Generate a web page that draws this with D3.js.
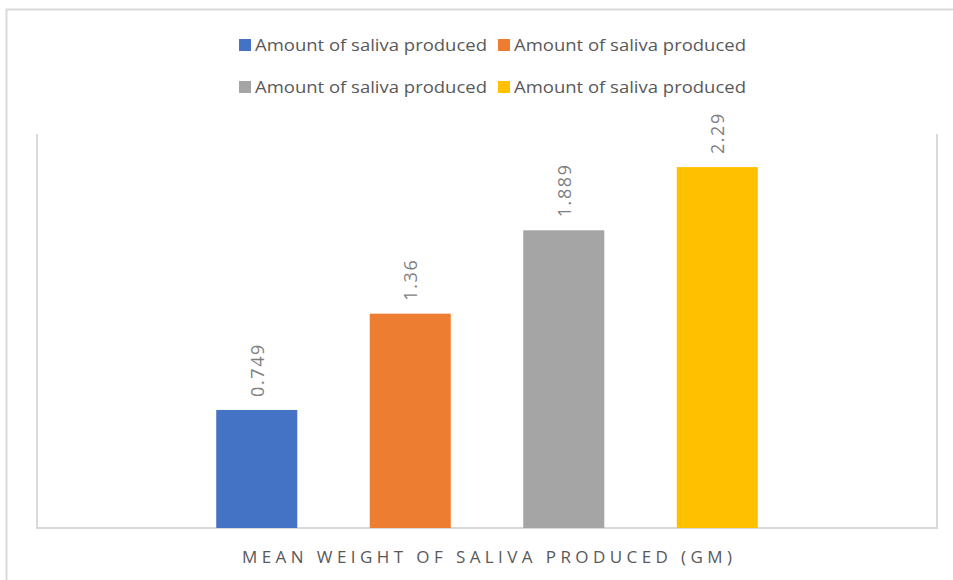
<!DOCTYPE html>
<html>
<head>
<meta charset="utf-8">
<script src="https://cdn.jsdelivr.net/npm/d3@7"></script>
<style>
  body { margin: 0; background: #fff; }
  text { font-family: "Open Sans", "Liberation Sans", sans-serif; }
</style>
</head>
<body>
<script>
// chart data
var categories = ["MEAN WEIGHT OF SALIVA PRODUCED (GM)"];
var series = ["Amount of saliva produced 1", "Amount of saliva produced 2",
              "Amount of saliva produced 3", "Amount of saliva produced 4"];
var seriesLabels = ["Amount of saliva produced", "Amount of saliva produced",
                    "Amount of saliva produced", "Amount of saliva produced"];
var values = [0.749, 1.36, 1.889, 2.29];
var valueLabels = ["0.749", "1.36", "1.889", "2.29"];
var colors = ["#4472C4", "#ED7D31", "#A5A5A5", "#FFC000"];

var W = 953, H = 580;
var plot = { left: 37, right: 937, top: 134, bottom: 528 };

var svg = d3.select("body").append("svg")
    .attr("width", W)
    .attr("height", H);

// outer chart border (runs off the right/bottom edge)
svg.append("rect")
    .attr("x", 6.5).attr("y", 9.5)
    .attr("width", 1000).attr("height", 1000)
    .attr("fill", "none")
    .attr("stroke", "#d9d9d9")
    .attr("stroke-width", 2);

// plot area frame: left, bottom, right (no top edge)
svg.append("path")
    .attr("d", "M" + plot.left + "," + plot.top +
               "V" + plot.bottom + "H" + plot.right + "V" + plot.top)
    .attr("fill", "none")
    .attr("stroke", "#d9d9d9")
    .attr("stroke-width", 2);

// scales
var x0 = d3.scaleBand()
    .domain(categories)
    .range([plot.left, plot.right]);

var groupCenter = x0(categories[0]) + x0.bandwidth() / 2;
var x1 = d3.scaleBand()
    .domain(series)
    .range([groupCenter - 307, groupCenter + 307])
    .paddingInner(0.472)
    .paddingOuter(0.236);

var y = d3.scaleLinear()
    .domain([0, 2.5])
    .range([plot.bottom, plot.top]);

// bars
svg.selectAll(".bar")
    .data(values)
    .enter()
    .append("rect")
    .attr("class", "bar")
    .attr("x", function(d, i) { return x1(series[i]); })
    .attr("y", function(d) { return y(d); })
    .attr("width", x1.bandwidth())
    .attr("height", function(d) { return y(0) - y(d); })
    .attr("fill", function(d, i) { return colors[i]; });

// rotated value labels
svg.selectAll(".vlabel")
    .data(values)
    .enter()
    .append("text")
    .attr("class", "vlabel")
    .attr("transform", function(d, i) {
      var cx = x1(series[i]) + x1.bandwidth() / 2;
      return "translate(" + (cx + 7) + "," + (y(d) - 13) + ") rotate(-90)";
    })
    .attr("text-anchor", "start")
    .style("font-size", "18px")
    .style("letter-spacing", "1.6px")
    .style("fill", "#7f7f7f")
    .text(function(d, i) { return valueLabels[i]; });

// category axis title
svg.append("text")
    .attr("x", groupCenter)
    .attr("y", 563)
    .attr("text-anchor", "middle")
    .attr("textLength", 490)
    .attr("lengthAdjust", "spacing")
    .style("font-size", "17px")
    .style("fill", "#595959")
    .text(categories[0]);

// legend, two rows of two
var legendPos = [[239, 45], [498, 45], [239, 87], [498, 87]];
var legend = svg.selectAll(".legend")
    .data(seriesLabels)
    .enter()
    .append("g")
    .attr("class", "legend")
    .attr("transform", function(d, i) {
      return "translate(" + legendPos[i][0] + "," + legendPos[i][1] + ")";
    });

legend.append("rect")
    .attr("x", 0).attr("y", -6)
    .attr("width", 12).attr("height", 12)
    .attr("fill", function(d, i) { return colors[i]; });

legend.append("text")
    .attr("x", 16)
    .attr("y", 6)
    .attr("textLength", 232)
    .attr("lengthAdjust", "spacingAndGlyphs")
    .style("font-size", "17px")
    .style("fill", "#595959")
    .text(function(d) { return d; });
</script>
</body>
</html>
